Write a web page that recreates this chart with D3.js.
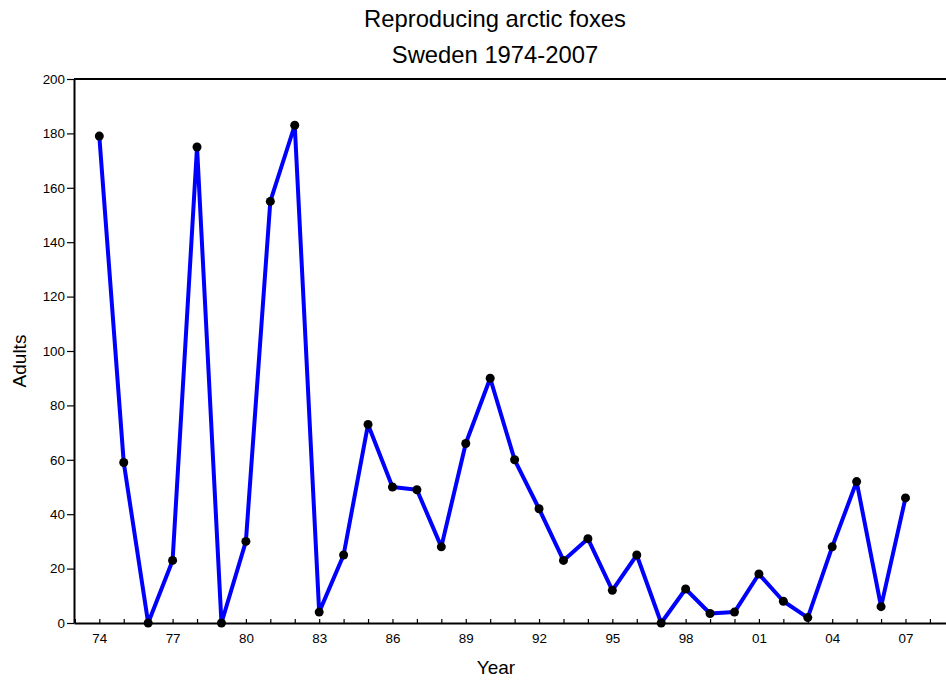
<!DOCTYPE html>
<html>
<head>
<meta charset="utf-8">
<script src="https://cdn.jsdelivr.net/npm/d3@7"></script>
<style>
  html, body { margin: 0; padding: 0; background: #fff; }
  svg { display: block; font-family: "Liberation Sans", Arial, Helvetica, sans-serif; }
</style>
</head>
<body>
<svg id="chart" width="946" height="684"></svg>
<script>
const years = [1974,1975,1976,1977,1978,1979,1980,1981,1982,1983,1984,1985,1986,1987,1988,1989,1990,1991,1992,1993,1994,1995,1996,1997,1998,1999,2000,2001,2002,2003,2004,2005,2006,2007];
const adults = [179,59,0,23,175,0,30,155,183,4,25,73,50,49,28,66,90,60,42,23,31,12,25,0,12.5,3.5,4,18,8,2,28,52,6,46];
const yTicks = [0,20,40,60,80,100,120,140,160,180,200];
const titleLines = ["Reproducing arctic foxes", "Sweden 1974-2007"];
const xTitle = "Year";
const yTitle = "Adults";

const svg = d3.select("#chart");
const pLeft = 74, pRight = 946, pTop = 79, pBottom = 623;

const x = d3.scaleLinear().domain([1972.964, 2008.658]).range([pLeft, pRight]);
const y = d3.scaleLinear().domain([0, 200]).range([pBottom, pTop]);

// Titles
svg.append("g").selectAll("text").data(titleLines).join("text")
  .attr("x", 495).attr("y", (d, i) => 26.7 + i * 36)
  .attr("text-anchor", "middle").attr("font-size", 23.8).attr("fill", "#000")
  .text(d => d);

// Top border
svg.append("line").attr("x1", x.range()[0]).attr("x2", x.range()[1])
  .attr("y1", y(200)).attr("y2", y(200)).attr("stroke", "#000").attr("stroke-width", 2);

// X axis
const allYears = d3.range(1973, 2009);
const xAxis = d3.axisBottom(x).tickValues(allYears).tickSizeInner(-4).tickSizeOuter(0).tickPadding(10)
  .tickFormat(d => ((d - 1974) % 3 === 0) ? String(d % 100).padStart(2, "0") : "");
const gx = svg.append("g").attr("transform", `translate(0,${pBottom})`).call(xAxis);
gx.select(".domain").attr("stroke-width", 2);
gx.selectAll(".tick line").attr("stroke-width", 1.2);
gx.selectAll("text").attr("font-size", 13.4).attr("font-family", "Liberation Sans, Arial, sans-serif").attr("fill", "#000");

// Y axis
const yAxis = d3.axisLeft(y).tickValues(yTicks).tickSizeInner(7).tickSizeOuter(0).tickPadding(2);
const gy = svg.append("g").attr("transform", `translate(${pLeft},0)`).call(yAxis);
gy.select(".domain").attr("stroke-width", 2);
gy.selectAll(".tick line").attr("stroke-width", 1.2);
gy.selectAll("text").attr("font-size", 13.4).attr("font-family", "Liberation Sans, Arial, sans-serif").attr("fill", "#000");

// Axis titles
svg.append("text").attr("x", 496).attr("y", 674).attr("text-anchor", "middle")
  .attr("font-size", 19).text(xTitle);
svg.append("text").attr("transform", "translate(25.5,361) rotate(-90)").attr("text-anchor", "middle")
  .attr("font-size", 19).text(yTitle);

// Data
const data = years.map((yr, i) => ({ yr, v: adults[i] }));
const line = d3.line().x(d => x(d.yr)).y(d => y(d.v));
svg.append("path").datum(data).attr("d", line)
  .attr("fill", "none").attr("stroke", "#0000ff").attr("stroke-width", 4).attr("stroke-linejoin", "round");
svg.append("g").selectAll("circle").data(data).join("circle")
  .attr("cx", d => x(d.yr)).attr("cy", d => y(d.v)).attr("r", 4.5).attr("fill", "#000");
</script>
</body>
</html>
